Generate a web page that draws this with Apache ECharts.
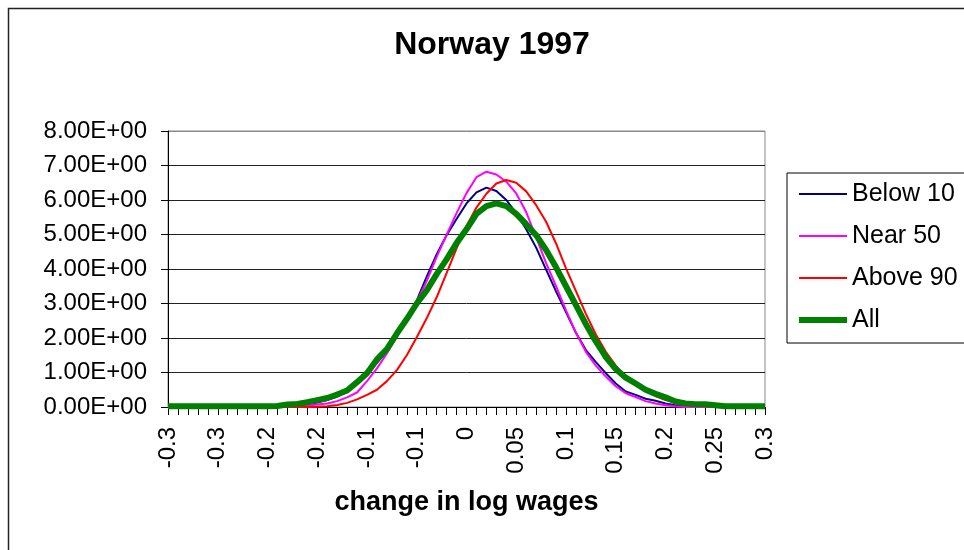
<!DOCTYPE html>
<html>
<head>
<meta charset="utf-8">
<script src="https://cdn.jsdelivr.net/npm/echarts@6/dist/echarts.min.js"></script>
<style>
  html, body { margin: 0; padding: 0; background: #fff; }
  #chart { width: 964px; height: 550px; }
</style>
</head>
<body>
<div id="chart"></div>
<script>
// x categories: change in log wages, -0.30 .. 0.30
const categories = [
  '-0.30', '-0.29', '-0.28', '-0.27', '-0.26', '-0.25', '-0.24', '-0.23', '-0.22', '-0.21',
  '-0.20', '-0.19', '-0.18', '-0.17', '-0.16', '-0.15', '-0.14', '-0.13', '-0.12', '-0.11',
  '-0.10', '-0.09', '-0.08', '-0.07', '-0.06', '-0.05', '-0.04', '-0.03', '-0.02', '-0.01',
  '0.00', '0.01', '0.02', '0.03', '0.04', '0.05', '0.06', '0.07', '0.08', '0.09',
  '0.10', '0.11', '0.12', '0.13', '0.14', '0.15', '0.16', '0.17', '0.18', '0.19',
  '0.20', '0.21', '0.22', '0.23', '0.24', '0.25', '0.26', '0.27', '0.28', '0.29', '0.30'
];

// tick labels as Excel shows them (one every 5 categories)
const xTickLabels = ['-0.3', '-0.3', '-0.2', '-0.2', '-0.1', '-0.1', '0', '0.05', '0.1', '0.15', '0.2', '0.25', '0.3'];
const yTickLabels = ['0.00E+00', '1.00E+00', '2.00E+00', '3.00E+00', '4.00E+00', '5.00E+00', '6.00E+00', '7.00E+00', '8.00E+00'];

const below10 = [
  0, 0, 0, 0, 0, 0, 0, 0, 0, 0,
  0, 0, 0.02, 0.05, 0.08, 0.13, 0.2, 0.3, 0.45, 0.68,
  0.95, 1.28, 1.62, 2.05, 2.52, 3.08, 3.78, 4.42, 4.98, 5.45,
  5.9, 6.22, 6.36, 6.26, 6.0, 5.62, 5.15, 4.62, 3.98, 3.35,
  2.75, 2.15, 1.65, 1.3, 0.98, 0.68, 0.45, 0.35, 0.24, 0.18,
  0.1, 0.05, 0.02, 0, 0, 0, 0, 0, 0, 0, 0
];

const near50 = [
  0, 0, 0, 0, 0, 0, 0, 0, 0, 0,
  0, 0, 0, 0.02, 0.04, 0.07, 0.1, 0.17, 0.28, 0.42,
  0.75, 1.12, 1.55, 2.05, 2.55, 3.05, 3.65, 4.35, 4.99, 5.62,
  6.2, 6.66, 6.82, 6.74, 6.53, 6.19, 5.65, 4.92, 4.17, 3.5,
  2.8, 2.15, 1.6, 1.2, 0.88, 0.6, 0.4, 0.29, 0.17, 0.1,
  0.05, 0.02, 0, 0, 0, 0, 0, 0, 0, 0, 0
];

const above90 = [
  0, 0, 0, 0, 0, 0, 0, 0, 0, 0,
  0, 0, 0, 0, 0, 0.01, 0.02, 0.06, 0.12, 0.22,
  0.35, 0.5, 0.75, 1.07, 1.5, 2.02, 2.57, 3.18, 3.88, 4.6,
  5.25, 5.78, 6.18, 6.48, 6.58, 6.5, 6.25, 5.85, 5.37, 4.74,
  4.02, 3.36, 2.7, 2.1, 1.6, 1.2, 0.88, 0.64, 0.46, 0.32,
  0.2, 0.12, 0.07, 0.04, 0.02, 0, 0, 0, 0, 0, 0
];

const all = [
  0.02, 0.02, 0.02, 0.02, 0.02, 0.02, 0.02, 0.02, 0.02, 0.02,
  0.02, 0.03, 0.07, 0.09, 0.14, 0.2, 0.26, 0.36, 0.48, 0.72,
  0.98, 1.38, 1.68, 2.13, 2.55, 3.0, 3.38, 3.85, 4.28, 4.75,
  5.15, 5.6, 5.82, 5.9, 5.82, 5.6, 5.3, 4.98, 4.55, 4.05,
  3.5, 2.95, 2.4, 1.9, 1.45, 1.1, 0.85, 0.68, 0.5, 0.38,
  0.28, 0.16, 0.1, 0.08, 0.08, 0.05, 0.02, 0.02, 0.02, 0.02, 0.02
];

const font = "'Liberation Sans', Arial, sans-serif";

const chart = echarts.init(document.getElementById('chart'));

const lineSeries = (name, data, color, width) => ({
  name,
  type: 'line',
  data,
  symbol: 'none',
  legendIcon: 'none',
  smooth: false,
  animation: false,
  lineStyle: { color, width },
  itemStyle: { color },
});

chart.setOption({
  animation: false,
  backgroundColor: '#fff',
  textStyle: { fontFamily: font, color: '#000' },
  title: {
    text: 'Norway 1997',
    left: 487,
    textAlign: 'center',
    top: 24,
    textStyle: { fontFamily: font, fontSize: 32, fontWeight: 'bold', color: '#000' },
  },
  legend: {
    orient: 'vertical',
    left: 787,
    top: 173,
    padding: [8, 20, 10, 9],
    itemGap: 16,
    itemWidth: 48,
    itemHeight: 14,
    borderColor: '#000',
    borderWidth: 1,
    itemStyle: { opacity: 0 },
    textStyle: { fontFamily: font, fontSize: 25, color: '#000', lineHeight: 26 },
    data: [
      { name: 'Below 10', lineStyle: { width: 2 } },
      { name: 'Near 50', lineStyle: { width: 2 } },
      { name: 'Above 90', lineStyle: { width: 2 } },
      { name: 'All', lineStyle: { width: 6 } },
    ],
  },
  graphic: [{
    type: 'rect',
    shape: { x: 8.5, y: 8.5, width: 1000, height: 600 },
    style: { fill: 'none', stroke: '#222', lineWidth: 1.5 },
    silent: true,
  }],
  grid: {
    left: 168,
    top: 131,
    width: 597,
    height: 276,
    show: true,
    borderColor: '#888',
    borderWidth: 1,
  },
  xAxis: {
    type: 'category',
    data: categories,
    boundaryGap: false,
    name: 'change in log wages',
    nameLocation: 'middle',
    nameGap: 82,
    nameTextStyle: { fontFamily: font, fontSize: 27, fontWeight: 'bold', color: '#000' },
    axisLine: { lineStyle: { color: '#000', width: 1 } },
    axisTick: { show: true, interval: 0, length: 8, lineStyle: { color: '#000' } },
    axisLabel: {
      interval: 4,
      rotate: 90,
      margin: 20,
      fontFamily: font,
      fontSize: 24,
      color: '#000',
      formatter: (v, i) => xTickLabels[i / 5],
    },
    splitLine: { show: false },
  },
  yAxis: {
    type: 'value',
    min: 0,
    max: 8,
    interval: 1,
    axisLine: { show: true, lineStyle: { color: '#000', width: 1 } },
    axisTick: { show: true, length: 7, lineStyle: { color: '#000' } },
    axisLabel: {
      margin: 21,
      fontFamily: font,
      fontSize: 24,
      color: '#000',
      formatter: (v) => yTickLabels[Math.round(v)],
    },
    splitLine: {
      show: true,
      lineStyle: {
        color: ['#222', '#222', '#222', '#222', '#222', '#222', '#222', '#222', '#888'],
        width: 1,
      },
    },
  },
  series: [
    lineSeries('Below 10', below10, '#000080', 2),
    lineSeries('Near 50', near50, '#ff00ff', 2),
    lineSeries('Above 90', above90, '#ff0000', 2),
    lineSeries('All', all, '#008000', 6),
  ],
});
</script>
</body>
</html>
